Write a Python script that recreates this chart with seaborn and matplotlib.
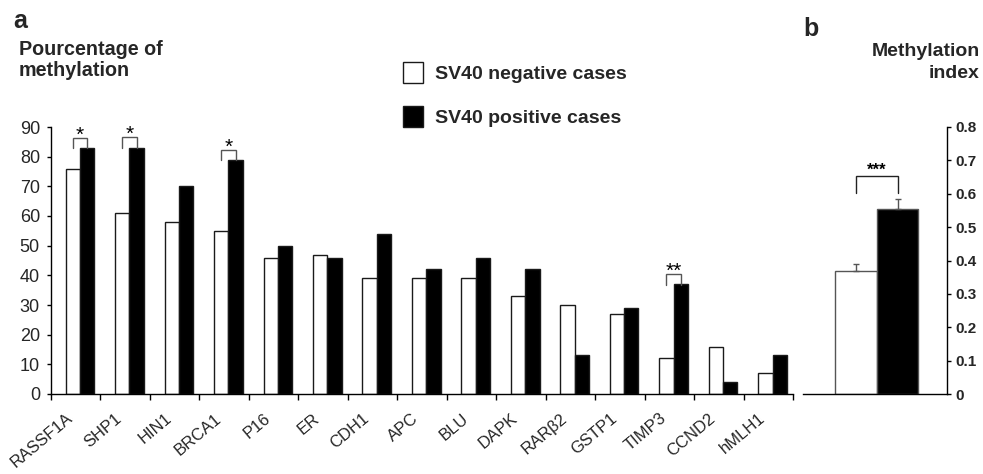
import numpy as np
import pandas as pd
import matplotlib
matplotlib.use("Agg")
import matplotlib.pyplot as plt
import seaborn as sns

# Percentage of methylation per gene
genes = ["RASSF1A", "SHP1", "HIN1", "BRCA1", "P16", "ER", "CDH1", "APC",
         "BLU", "DAPK", "RARβ2", "GSTP1", "TIMP3", "CCND2", "hMLH1"]
negative = [76, 61, 58, 55, 46, 47, 39, 39, 39, 33, 30, 27, 12, 16, 7]
positive = [83, 83, 70, 79, 50, 46, 54, 42, 46, 42, 13, 29, 37, 4, 13]
groups = ["SV40 negative cases", "SV40 positive cases"]

# Significant differences in panel a
sig_genes = ["RASSF1A", "SHP1", "BRCA1", "TIMP3"]
sig_marks = ["*", "*", "*", "**"]
sig_tops = [86.3, 86.5, 82.3, 40.3]

# Methylation index (mean and error) for panel b
index_mean = [0.37, 0.555]
index_err = [0.02, 0.028]
index_mark = "***"
index_top = 0.653

sns.set_theme(style="white")
plt.rcParams["font.family"] = ["Liberation Sans", "DejaVu Sans"]

W, H = 983, 474
fig = plt.figure(figsize=(W / 100, H / 100), dpi=100)


def fx(px):
    return px / W


def fy(py):
    return 1 - py / H


ax_a = fig.add_axes([fx(51), 80 / H, (793 - 51) / W, 267 / H])
ax_b = fig.add_axes([fx(803), 80 / H, (947 - 803) / W, 267 / H])

palette = ["white", "black"]
edge = "#1a1a1a"

# ---- panel a ----
df_a = pd.DataFrame({
    "gene": genes * 2,
    "value": negative + positive,
    "group": [groups[0]] * len(genes) + [groups[1]] * len(genes),
})
sns.barplot(data=df_a, x="gene", y="value", hue="group", order=genes,
            hue_order=groups, palette=palette, saturation=1, width=0.58,
            gap=0, edgecolor=edge, linewidth=1.0, errorbar=None, ax=ax_a)
handles, labels = ax_a.get_legend_handles_labels()
ax_a.get_legend().remove()

shift = 0.586
ax_a.set_xlim(-shift, len(genes) - shift)
ax_a.set_ylim(0, 90)
ax_a.set_yticks(np.arange(0, 91, 10))
ax_a.set_xlabel("")
ax_a.set_ylabel("")
for s in ["top", "right"]:
    ax_a.spines[s].set_visible(False)
for s in ["left", "bottom"]:
    ax_a.spines[s].set_color("black")
    ax_a.spines[s].set_linewidth(1.0)

# gene names sit just left of each bar pair; boundary ticks between genes
ax_a.set_xticks(np.arange(len(genes)) - 0.29)
ax_a.set_xticklabels(genes, rotation=40, ha="right", rotation_mode="anchor",
                     fontsize=12)
ax_a.set_xticks(np.arange(len(genes) + 1) - shift, minor=True)
ax_a.tick_params(axis="x", which="major", length=0, pad=12)
ax_a.tick_params(axis="x", which="minor", bottom=True, length=4, width=1,
                 color="black", direction="out")
ax_a.tick_params(axis="y", left=True, length=3, width=1, color="black",
                 direction="out", pad=5, labelsize=13)

off = 0.58 / 4
for g, mark, top in zip(sig_genes, sig_marks, sig_tops):
    i = genes.index(g)
    xl, xr = i - off, i + off
    ax_a.plot([xl, xl, xr, xr], [top - 3.5, top, top, top - 3.5],
              color="#555555", lw=1.0, solid_joinstyle="miter")
    ax_a.text(i, top - 0.9, mark, ha="center", va="baseline", fontsize=15,
              color="black")

# ---- panel b ----
df_b = pd.DataFrame({"cat": ["", ""], "value": index_mean, "group": groups})
sns.barplot(data=df_b, x="cat", y="value", hue="group", hue_order=groups,
            palette=palette, saturation=1, width=0.8, gap=0,
            edgecolor="#555555", linewidth=1.0, errorbar=None, legend=False,
            ax=ax_b)
ax_b.errorbar([-0.2, 0.2], index_mean, yerr=[[0, 0], index_err], fmt="none",
              ecolor="#555555", elinewidth=1.0, capsize=2.5, capthick=1.0)
ax_b.set_xlim(-0.713, 0.675)
ax_b.set_ylim(0, 0.8)
ax_b.set_yticks(np.arange(0, 0.81, 0.1))
ax_b.set_yticklabels(["0"] + [f"{v:.1f}" for v in np.arange(0.1, 0.81, 0.1)],
                     fontweight="bold")
ax_b.set_xticks([])
ax_b.set_xlabel("")
ax_b.set_ylabel("")
for s in ["top", "left"]:
    ax_b.spines[s].set_visible(False)
for s in ["right", "bottom"]:
    ax_b.spines[s].set_color("black")
    ax_b.spines[s].set_linewidth(1.0)
ax_b.yaxis.tick_right()
ax_b.tick_params(axis="y", right=True, left=False, length=3, width=1,
                 color="black", direction="out", pad=3, labelsize=11)
ax_b.plot([-0.2, -0.2, 0.2, 0.2],
          [index_top - 0.052, index_top, index_top, index_top - 0.052],
          color="#222222", lw=1.0, solid_joinstyle="miter")
ax_b.text(0, index_top + 0.004, index_mark, ha="center", va="baseline",
          fontsize=12, fontweight="bold", color="black")

# ---- legend and headings ----
fig.legend(handles, labels, loc="upper left",
           bbox_to_anchor=(fx(403), fy(62)), frameon=False,
           prop={"weight": "bold", "size": 14}, handlelength=1.05,
           handleheight=1.25, handletextpad=0.6, labelspacing=1.2,
           borderpad=0, borderaxespad=0)

fig.text(fx(13), fy(28), "a", fontsize=18, fontweight="bold", va="baseline")
fig.text(fx(803), fy(36), "b", fontsize=18, fontweight="bold", va="baseline")
fig.text(fx(19), fy(55), "Pourcentage of", fontsize=14.2, fontweight="bold",
         va="baseline")
fig.text(fx(19), fy(76), "methylation", fontsize=14.2, fontweight="bold",
         va="baseline")
fig.text(fx(980), fy(56), "Methylation", fontsize=14, fontweight="bold",
         va="baseline", ha="right")
fig.text(fx(980), fy(78), "index", fontsize=14, fontweight="bold",
         va="baseline", ha="right")

fig.savefig("out.png", dpi=100, facecolor="white")
